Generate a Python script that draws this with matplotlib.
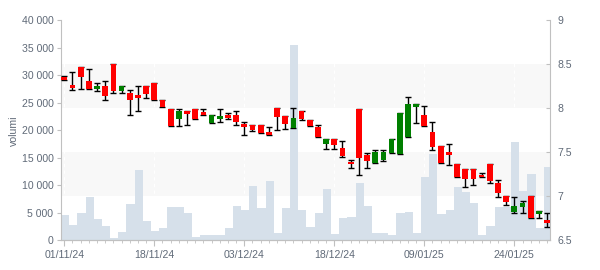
import numpy as np
import matplotlib
matplotlib.use("Agg")
import matplotlib.pyplot as plt
from matplotlib.patches import Rectangle
from matplotlib.ticker import FixedLocator, MultipleLocator, FuncFormatter
from matplotlib.transforms import blended_transform_factory

plt.rcParams['font.family'] = ['Liberation Sans', 'DejaVu Sans']

# trading-day series
opens = [8.358, 8.263, 8.471, 8.312, 8.225, 8.255, 8.505, 8.202, 8.176, 8.153,
         8.255, 8.289, 8.096, 7.994, 7.884, 7.971, 7.994, 7.960, 7.839, 7.884,
         7.922, 7.926, 7.820, 7.812, 7.812, 7.733, 8.005, 7.914, 7.782, 7.971,
         7.869, 7.786, 7.600, 7.653, 7.551, 7.395, 7.994, 7.467, 7.384, 7.414,
         7.498, 7.486, 7.680, 8.020, 7.926, 7.733, 7.573, 7.501, 7.369, 7.312,
         7.312, 7.244, 7.369, 7.149, 7.005, 6.827, 6.884, 7.005, 6.805, 6.733]
highs = [8.369, 8.411, 8.471, 8.445, 8.289, 8.308, 8.505, 8.255, 8.206, 8.251,
         8.255, 8.289, 8.096, 7.994, 7.994, 7.971, 7.994, 7.994, 7.926, 7.994,
         7.948, 7.971, 7.846, 7.812, 7.812, 7.786, 8.005, 7.914, 8.005, 7.971,
         7.869, 7.808, 7.653, 7.653, 7.630, 7.414, 7.994, 7.490, 7.528, 7.528,
         7.653, 7.948, 8.126, 8.051, 8.024, 7.846, 7.573, 7.592, 7.369, 7.312,
         7.312, 7.267, 7.369, 7.187, 7.005, 6.994, 6.945, 7.005, 6.831, 6.808]
lows = [8.327, 8.206, 8.225, 8.225, 8.202, 8.100, 8.172, 8.172, 7.922, 7.967,
        8.123, 8.100, 8.020, 7.805, 7.805, 7.808, 7.884, 7.930, 7.831, 7.842,
        7.884, 7.808, 7.702, 7.748, 7.725, 7.702, 7.752, 7.763, 7.782, 7.865,
        7.805, 7.680, 7.543, 7.543, 7.445, 7.327, 7.248, 7.327, 7.384, 7.407,
        7.498, 7.486, 7.680, 7.839, 7.805, 7.524, 7.384, 7.361, 7.225, 7.104,
        7.127, 7.217, 7.149, 6.990, 6.907, 6.808, 6.808, 6.759, 6.752, 6.649]
closes = [8.327, 8.236, 8.361, 8.225, 8.255, 8.145, 8.202, 8.255, 8.096, 8.123,
          8.168, 8.100, 8.020, 7.805, 7.971, 7.941, 7.884, 7.930, 7.926, 7.914,
          7.895, 7.842, 7.793, 7.755, 7.725, 7.702, 7.907, 7.827, 7.892, 7.884,
          7.805, 7.680, 7.653, 7.585, 7.460, 7.373, 7.441, 7.407, 7.505, 7.505,
          7.653, 7.948, 8.051, 8.051, 7.805, 7.566, 7.384, 7.475, 7.225, 7.202,
          7.202, 7.217, 7.180, 7.043, 6.937, 6.895, 6.926, 6.759, 6.831, 6.702]
volumes = [4600, 2800, 5000, 7900, 3900, 2640, 450, 1550, 6640, 12800,
           3550, 1730, 2270, 6090, 6090, 5000, 640, 1000, 1000, 1000,
           2270, 6270, 5550, 9900, 5900, 10800, 1360, 5900, 35500, 5550,
           2450, 5000, 9360, 1180, 4090, 4270, 10450, 6270, 1360, 1360,
           1000, 5000, 5180, 1360, 11540, 15730, 4820, 5550, 9730, 8820,
           6820, 1000, 2640, 6090, 6090, 17900, 9000, 12090, 2270, 13360]

date_ticks = [0, 11, 22, 33, 44, 55]
date_labels = ["01/11/24", "18/11/24", "03/12/24", "18/12/24", "09/01/25", "24/01/25"]
price_ticks = [6.5, 7, 7.5, 8, 8.5, 9]
volume_ticks = [0, 5000, 10000, 15000, 20000, 25000, 30000, 35000, 40000]

axis_col = '#c0c0c0'
text_col = '#606a78'

fig = plt.figure(figsize=(6, 2.7), dpi=100)
ax = fig.add_axes([0.1017, 0.1093, 0.8155, 0.8148])
ax2 = ax.twinx()

x = np.arange(len(opens))
ax.set_xlim(-0.4, 59.4)
ax.set_ylim(0, 40000)
ax2.set_ylim(6.5, 9)

# alternating bands following the price axis, drawn under the volume bars
band_tr = blended_transform_factory(ax.transAxes, ax2.transData)
for lo in [7, 8]:
    ax.add_patch(Rectangle((0, lo), 1, 0.5, transform=band_tr,
                           facecolor='#f8f8f8', edgecolor='none', zorder=0))
for t in date_ticks:
    ax.axvline(t, color='white', lw=0.8, ls=(0, (3, 3)), zorder=0.5)

ax.bar(x + 0.1, volumes, width=1.0, color='#d6e0ea', linewidth=0, zorder=1)

# candles
o = np.array(opens)
c = np.array(closes)
colors = np.where(c >= o, '#007f00', '#ff0000')
ax2.vlines(x, lows, highs, color='black', lw=1.0, zorder=2)
ax2.plot(x, highs, ls='', marker='_', ms=4.5, mew=1.0, color='black', zorder=2)
ax2.plot(x, lows, ls='', marker='_', ms=4.5, mew=1.0, color='black', zorder=2)
ax2.bar(x, np.abs(c - o), bottom=np.minimum(o, c), width=0.7,
        color=colors, linewidth=0, zorder=3)

# axes styling
for a in (ax, ax2):
    a.spines['top'].set_visible(False)
    for s in ('left', 'right', 'bottom'):
        a.spines[s].set_color(axis_col)
ax.spines['right'].set_visible(False)
ax2.spines['left'].set_visible(False)

ax.xaxis.set_major_locator(FixedLocator(date_ticks))
ax.xaxis.set_minor_locator(MultipleLocator(1))
ax.set_xticklabels(date_labels)
ax.tick_params(axis='x', which='major', length=4, color=axis_col,
               labelsize=7.6, labelcolor=text_col, pad=3)
ax.tick_params(axis='x', which='minor', length=2, color=axis_col)

ax.yaxis.set_major_locator(FixedLocator(volume_ticks))
ax.yaxis.set_major_formatter(FuncFormatter(lambda v, p: f"{int(v):,}".replace(",", " ")))
ax.tick_params(axis='y', length=3, color=axis_col, labelsize=7.6,
               labelcolor=text_col, pad=2.5)
ax.set_ylabel('volumi', fontsize=7.6, color=text_col, labelpad=2)

ax2.yaxis.set_major_locator(FixedLocator(price_ticks))
ax2.yaxis.set_major_formatter(FuncFormatter(lambda v, p: f"{v:g}"))
ax2.tick_params(axis='y', direction='in', length=3, color=axis_col,
                labelsize=7.6, labelcolor=text_col, pad=5)

fig.savefig('out.png', dpi=100)
